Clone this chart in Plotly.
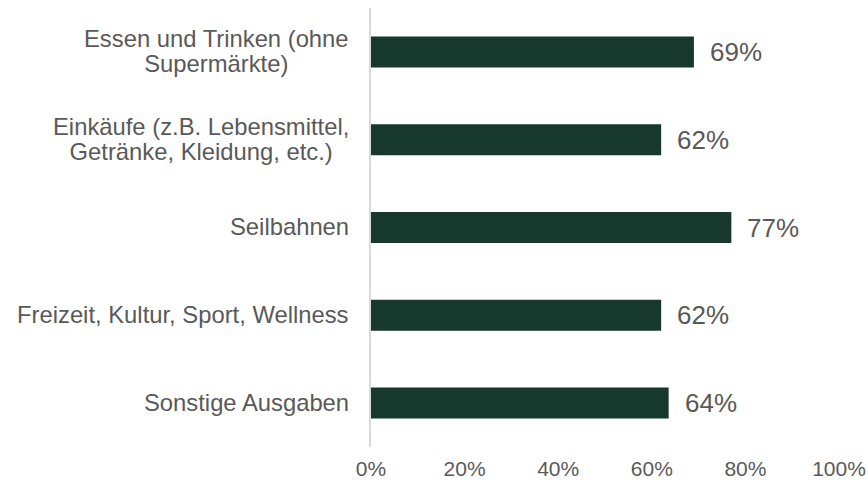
import plotly.graph_objects as go

categories = [
    "Essen und Trinken (ohne\nSupermärkte)",
    "Einkäufe (z.B. Lebensmittel,\nGetränke, Kleidung, etc.)",
    "Seilbahnen",
    "Freizeit, Kultur, Sport, Wellness",
    "Sonstige Ausgaben",
]
values = [69.0, 62.0, 77.0, 62.0, 63.6]
tick_values = [0, 20, 40, 60, 80, 100]
tick_labels = ["0%", "20%", "40%", "60%", "80%", "100%"]

BAR_COLOR = "#17382c"
TEXT_COLOR = "#595959"
FONT = "Liberation Sans, Arial, sans-serif"

ids = list(range(len(categories)))

fig = go.Figure(
    go.Bar(
        x=values,
        y=ids,
        orientation="h",
        marker=dict(color=BAR_COLOR, line=dict(width=0)),
        hoverinfo="skip",
    )
)

annotations = []
for i, (cat, v) in enumerate(zip(categories, values)):
    lines = cat.split("\n")
    label = "<br>".join(f'<span style="font-size:23.8px">{ln}</span>' for ln in lines)
    annotations.append(dict(
        x=0, xref="paper", y=i, yref="y",
        text=label,
        xanchor="right", yanchor="middle", align="center",
        xshift=-20, yshift=1, showarrow=False,
        font=dict(family=FONT, size=19, color=TEXT_COLOR),
    ))
    annotations.append(dict(
        x=v, xref="x", y=i, yref="y",
        text=f"{v:.0f}%",
        xanchor="left", yanchor="middle",
        xshift=14, showarrow=False,
        font=dict(family=FONT, size=26, color=TEXT_COLOR),
    ))

fig.update_layout(
    width=867, height=482,
    margin=dict(l=371, r=28, t=8, b=35),
    paper_bgcolor="white", plot_bgcolor="white",
    bargap=0.647,
    showlegend=False,
    annotations=annotations,
    font=dict(family=FONT, color=TEXT_COLOR),
    xaxis=dict(
        range=[0, 100], tickvals=tick_values, ticktext=tick_labels,
        showgrid=False, zeroline=False, showline=False,
        ticks="outside", ticklen=3, tickcolor="rgba(0,0,0,0)",
        ticklabeloverflow="allow",
        tickfont=dict(family=FONT, size=21, color=TEXT_COLOR),
        automargin=False, fixedrange=True,
    ),
    yaxis=dict(
        range=[len(categories) - 0.5, -0.5],
        showticklabels=False, showgrid=False, zeroline=False,
        showline=True, linecolor="#d9d9d9", linewidth=2,
        ticks="", automargin=False, fixedrange=True,
    ),
)

fig.write_html(
    "out.html",
    config={"displayModeBar": False},
    post_script="document.body.style.margin='0';document.body.style.overflow='hidden';",
)
